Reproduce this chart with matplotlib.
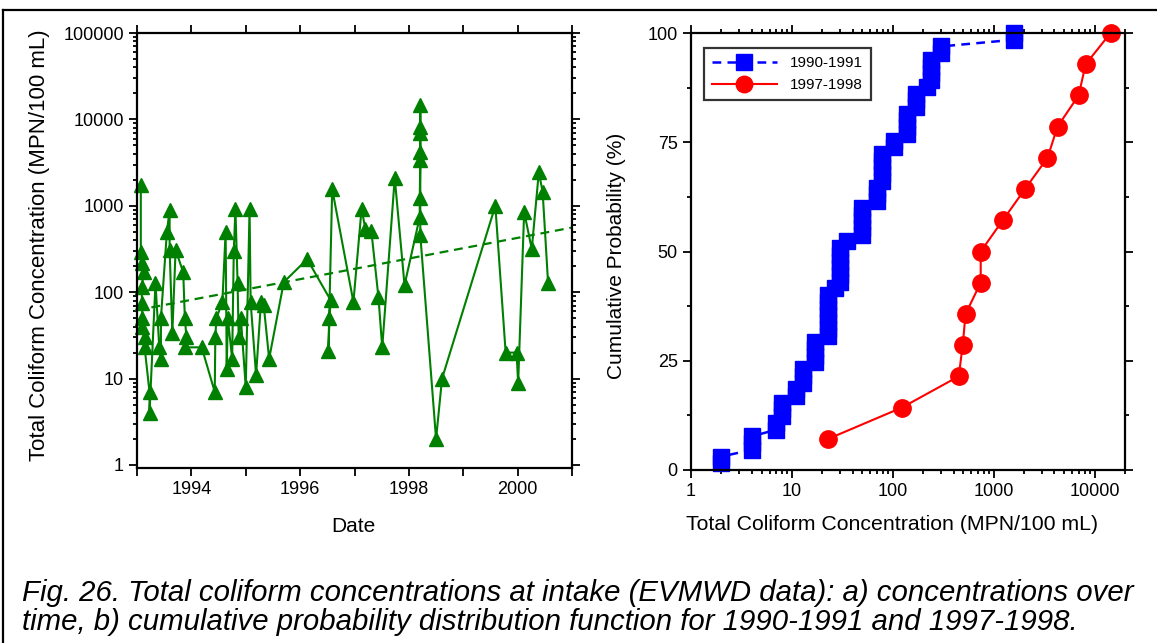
import numpy as np
import matplotlib
matplotlib.use("Agg")
import matplotlib.pyplot as plt
from matplotlib.lines import Line2D
from matplotlib.ticker import FixedLocator, LogLocator, NullFormatter

plt.rcParams['font.family'] = ['Liberation Sans', 'DejaVu Sans']

# ---- (a) total coliform at the intake, sampled over time ----
sample_dates = [
    1993.07, 1993.07, 1993.10, 1993.12, 1993.09, 1993.09, 1993.10, 1993.09, 1993.14, 1993.14,
    1993.23, 1993.23, 1993.34, 1993.41, 1993.44, 1993.44, 1993.55, 1993.60, 1993.60, 1993.65,
    1993.71, 1993.85, 1993.88, 1993.91, 1993.89, 1994.19, 1994.43, 1994.44, 1994.46, 1994.57,
    1994.63, 1994.65, 1994.67, 1994.75, 1994.78, 1994.81, 1994.85, 1994.87, 1994.91, 1995.00,
    1995.07, 1995.09, 1995.19, 1995.28, 1995.33, 1995.43, 1995.70, 1996.13, 1996.56, 1996.54,
    1996.52, 1996.59, 1996.98, 1997.13, 1997.20, 1997.31, 1997.44, 1997.51, 1997.74, 1997.92,
    1998.20, 1998.20, 1998.21, 1998.21, 1998.21, 1998.21, 1998.21, 1998.21, 1998.50, 1998.61,
    1999.59, 1999.78, 1999.98, 2000.01, 2000.12, 2000.26, 2000.39, 2000.46, 2000.56,
]
coliform = [
    1740, 290, 220, 170, 115, 75, 50, 40, 30, 23,
    7, 4, 127, 23, 17, 50, 500, 900, 310, 34,
    310, 170, 50, 30, 23, 23, 7, 30, 50, 77,
    500, 13, 50, 17, 300, 920, 127, 30, 50, 8,
    920, 77, 11, 77, 71, 17, 131, 241, 81, 50,
    21, 1560, 77, 920, 540, 510, 88, 23, 2100, 121,
    740, 1230, 3390, 4170, 6920, 8100, 14700, 460, 2.0, 10,
    1000, 20, 20, 8.9, 850, 316, 2450, 1450, 128,
]
trend_dates = [1993.0, 2001.0]
trend_values = [62, 560]

date_ticks = [1994, 1996, 1998, 2000]
date_minor = [1993, 1995, 1997, 1999, 2001]
conc_ticks = [1, 10, 100, 1000, 10000, 100000]
conc_labels = ["1", "10", "100", "1000", "10000", "100000"]

# ---- (b) cumulative distribution of the two sampling periods ----
conc_9091 = [2, 4, 7, 8, 11, 13, 17, 23, 27, 30, 35, 49, 70, 79, 103, 138, 170, 220, 240, 300, 1600]
count_9091 = [2, 3, 2, 3, 2, 3, 4, 7, 1, 6, 1, 5, 3, 5, 2, 4, 3, 1, 4, 2, 2]
conc_9798 = [23, 123, 450, 493, 526, 743, 743, 1230, 2040, 3410, 4290, 6940, 8150, 14400]

cdf_xticks = [1, 10, 100, 1000, 10000]
cdf_xlabels = ["1", "10", "100", "1000", "10000"]
prob_ticks = [0, 25, 50, 75, 100]
prob_minor = [12.5, 37.5, 62.5, 87.5]


def ecdf(values, counts=None):
    v = np.repeat(values, counts) if counts is not None else np.asarray(values, float)
    v = np.sort(v)
    n = len(v)
    return v, np.arange(1, n + 1) / n * 100.0


GREEN = "#008000"
W, H = 1157, 643

fig = plt.figure(figsize=(W / 100, H / 100), dpi=100)


def fx(px):
    return px / W


def fy(py):
    return 1 - py / H


def style_axes(ax):
    for s in ax.spines.values():
        s.set_linewidth(1.6)
    ax.tick_params(which="both", direction="out", top=True, right=True,
                   labelsize=13, width=1.3, colors="black")
    ax.tick_params(which="major", length=6)
    ax.tick_params(which="minor", length=3)


# ---------------- panel (a) ----------------
ax1 = fig.add_axes([fx(137), fy(468), fx(572) - fx(137), fy(33) - fy(468)])
ax1.set_yscale("log")
ax1.set_xlim(1993, 2001)
ax1.set_ylim(0.923, 1e5)
ax1.plot(trend_dates, trend_values, color=GREEN, lw=1.6, dashes=(4, 2.6))
ax1.plot(sample_dates, coliform, color=GREEN, lw=1.5, marker="^", ms=9.5,
         mfc=GREEN, mec=GREEN, clip_on=False)
ax1.xaxis.set_major_locator(FixedLocator(date_ticks))
ax1.xaxis.set_minor_locator(FixedLocator(date_minor))
ax1.set_xticklabels([str(t) for t in date_ticks])
ax1.yaxis.set_major_locator(FixedLocator(conc_ticks))
ax1.set_yticklabels(conc_labels)
ax1.yaxis.set_minor_locator(LogLocator(base=10, subs=np.arange(2, 10)))
ax1.yaxis.set_minor_formatter(NullFormatter())
style_axes(ax1)
ax1.tick_params(axis="x", which="minor", length=6)

fig.text(fx(40), fy(245), "Total Coliform Concentration (MPN/100 mL)", rotation=90,
         ha="center", va="center", fontsize=16)
fig.text(fx(353), fy(527), "Date", ha="center", va="center", fontsize=15)

# ---------------- panel (b) ----------------
ax2 = fig.add_axes([fx(691), fy(470), fx(1125) - fx(691), fy(33) - fy(470)])
ax2.set_xscale("log")
ax2.set_xlim(1, 20000)
ax2.set_ylim(0, 100)

x1, p1 = ecdf(conc_9091, count_9091)
x2, p2 = ecdf(conc_9798)
ax2.plot(x1, p1, color="#0000ff", lw=1.8, dashes=(3.5, 2.5), marker="s", ms=11.5,
         mfc="#0000ff", mec="#0000ff", clip_on=False, label="1990-1991")
ax2.plot(x2, p2, color="#ff0000", lw=1.5, marker="o", ms=12.5,
         mfc="#ff0000", mec="#ff0000", clip_on=False, label="1997-1998")

ax2.xaxis.set_major_locator(FixedLocator(cdf_xticks))
ax2.set_xticklabels(cdf_xlabels)
ax2.xaxis.set_minor_locator(LogLocator(base=10, subs=np.arange(2, 10)))
ax2.xaxis.set_minor_formatter(NullFormatter())
ax2.yaxis.set_major_locator(FixedLocator(prob_ticks))
ax2.yaxis.set_minor_locator(FixedLocator(prob_minor))
style_axes(ax2)

leg = ax2.legend(loc="upper left", bbox_to_anchor=((704 - 691) / 434, (470 - 48) / 437),
                 borderaxespad=0, frameon=True, fancybox=False, fontsize=11,
                 handlelength=4.2, handletextpad=0.85, borderpad=0.55, labelspacing=0.5,
                 markerscale=0.95)
leg.get_frame().set_edgecolor("black")
leg.get_frame().set_linewidth(1.6)

fig.text(fx(617), fy(256), "Cumulative Probability (%)", rotation=90,
         ha="center", va="center", fontsize=15)
fig.text(fx(892), fy(525), "Total Coliform Concentration (MPN/100 mL)",
         ha="center", va="center", fontsize=15.3)

# ---------------- caption and frame ----------------
fig.text(fx(22), fy(601), "Fig. 26. Total coliform concentrations at intake (EVMWD data): "
         "a) concentrations over", ha="left", va="baseline", fontsize=21.2, style="italic")
fig.text(fx(22), fy(630), "time, b) cumulative probability distribution function for "
         "1990-1991 and 1997-1998.", ha="left", va="baseline", fontsize=21.2, style="italic")

fig.add_artist(Line2D([fx(3), 1.0], [fy(10), fy(10)], transform=fig.transFigure,
                      color="black", lw=1.6))
fig.add_artist(Line2D([fx(3), fx(3)], [fy(10), 0.0], transform=fig.transFigure,
                      color="black", lw=1.6))

fig.savefig("out.png", dpi=100)
